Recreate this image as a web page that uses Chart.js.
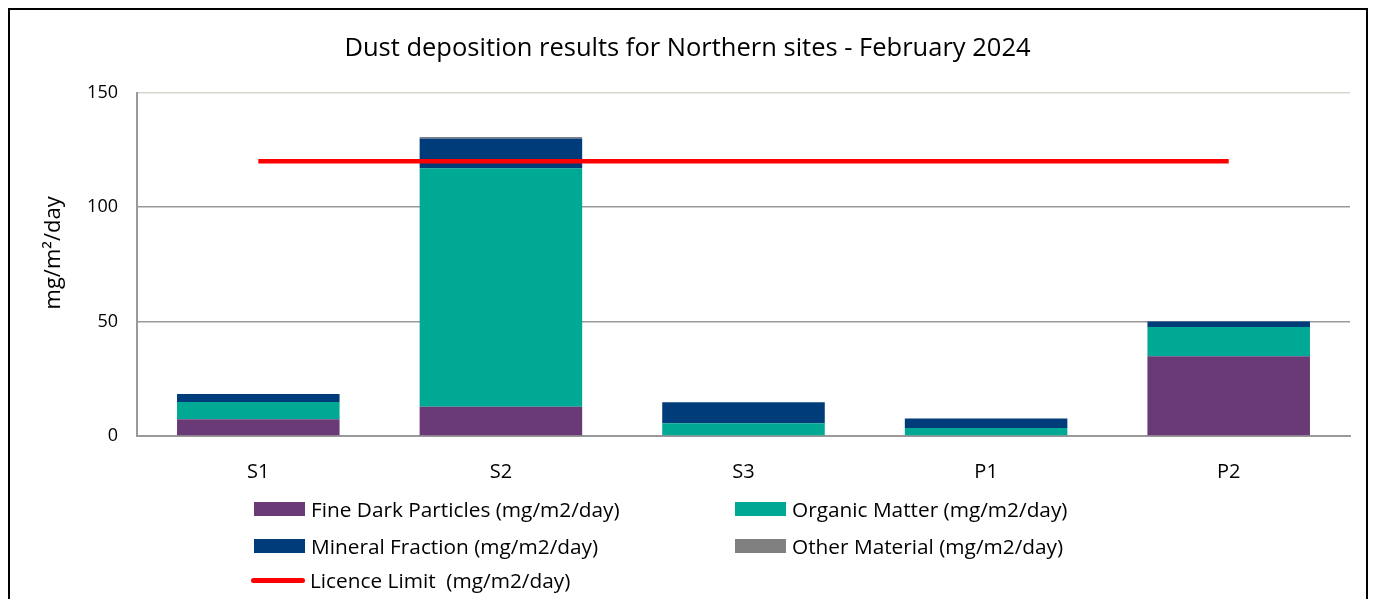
<!DOCTYPE html>
<html>
<head>
<meta charset="utf-8">
<script src="https://cdn.jsdelivr.net/npm/chart.js@4"></script>
<style>
  body { margin: 0; background: #fff; font-family: 'Open Sans', sans-serif; }
  #wrap { position: relative; width: 1374px; height: 599px; overflow: hidden; }
  #frame { position: absolute; left: 8px; top: 8px; width: 1356px; height: 620px;
           border: 2px solid #000; border-bottom: none; }
  #legend { position: absolute; left: 0; top: 0; font-size: 20.8px; color: #000; }
  .item { position: absolute; display: flex; align-items: center; white-space: pre; line-height: 24px; }
  .sw { width: 51px; height: 14px; margin-right: 6px; }
  .ln { width: 54px; height: 5px; border-radius: 3px; margin-right: 5px; margin-left: -3px; }
</style>
</head>
<body>
<div id="wrap">
  <canvas id="dustChart" width="1374" height="599"></canvas>
  <div id="frame"></div>
  <div id="legend"></div>
</div>
<script>
// ---- datos ----
const SITES = ["S1", "S2", "S3", "P1", "P2"];
const FINE_DARK = [7.3, 12.8, 0, 0, 34.8];
const ORGANIC = [7.6, 104.2, 5.6, 3.5, 12.8];
const MINERAL = [3.5, 12.9, 9.1, 4.1, 2.4];
const OTHER = [0, 0.7, 0, 0, 0];
const LICENCE_LIMIT = [120, 120, 120, 120, 120];
const Y_TICKS = [0, 50, 100, 150];

const COLORS = {
    fine: '#6A3A77',
    organic: '#00A994',
    mineral: '#003C7A',
    other: '#808080',
    limit: '#FF0000'
};

const FONT = "'Open Sans', Lato, sans-serif";

function barSet(label, data, color) {
    return { type: 'bar', label: label, data: data, backgroundColor: color,
             borderWidth: 0, stack: 'dust', order: 1,
             barPercentage: 0.67, categoryPercentage: 1 };
}

const datasets = [
    barSet('Fine Dark Particles (mg/m2/day)', FINE_DARK, COLORS.fine),
    barSet('Organic Matter (mg/m2/day)', ORGANIC, COLORS.organic),
    barSet('Mineral Fraction (mg/m2/day)', MINERAL, COLORS.mineral),
    barSet('Other Material (mg/m2/day)', OTHER, COLORS.other),
    { type: 'line', label: 'Licence Limit  (mg/m2/day)', data: LICENCE_LIMIT,
      borderColor: COLORS.limit, borderWidth: 4.5, pointRadius: 0,
      stack: 'limit', order: 0, fill: false }
];

new Chart(document.getElementById('dustChart'), {
    type: 'bar',
    data: { labels: SITES, datasets: datasets },
    options: {
        responsive: false,
        animation: false,
        layout: { padding: { left: 25, right: 24, top: 0, bottom: 113 } },
        plugins: {
            legend: { display: false },
            tooltip: { enabled: false },
            title: {
                display: true,
                text: 'Dust deposition results for Northern sites - February 2024',
                color: '#000',
                font: { family: FONT, size: 25.5, weight: 'normal' },
                padding: { top: 33, bottom: 29 }
            }
        },
        scales: {
            x: {
                stacked: true,
                grid: { display: false },
                border: { color: '#999', width: 2 },
                ticks: { color: '#000', font: { family: FONT, size: 20 }, padding: 16 },
                afterFit: s => { s.height = 50; }
            },
            y: {
                stacked: true,
                min: 0, max: 150,
                afterBuildTicks: s => { s.ticks = Y_TICKS.map(v => ({ value: v })); },
                grid: {
                    color: c => c.tick && c.tick.value === 150 ? '#d6d6cc' : '#999',
                    lineWidth: 1.6,
                    drawTicks: false
                },
                border: { color: '#999', width: 2 },
                ticks: { color: '#000', font: { family: FONT, size: 18 }, padding: 19 },
                title: {
                    display: true,
                    // espacios delante para subir un poco el texto como en el original
                    text: '    mg/m\u00B2/day',
                    color: '#000',
                    font: { family: FONT, size: 22 },
                    padding: { top: 16, bottom: 2 }
                },
                afterFit: s => { s.width = 112; }
            }
        }
    }
});

// --- leyenda HTML en dos columnas ---
const legendItems = [
    { ds: 0, x: 254, y: 509 }, { ds: 1, x: 735, y: 509 },
    { ds: 2, x: 254, y: 546 }, { ds: 3, x: 735, y: 546 },
    { ds: 4, x: 254, y: 580 }
];
const legendEl = document.getElementById('legend');
legendItems.forEach(it => {
    const d = datasets[it.ds];
    const div = document.createElement('div');
    div.className = 'item';
    div.style.left = it.x + 'px';
    div.style.top = (it.y - 12) + 'px';
    const sw = document.createElement('span');
    if (d.type === 'line') {
        sw.className = 'ln';
        sw.style.background = d.borderColor;
    } else {
        sw.className = 'sw';
        sw.style.background = d.backgroundColor;
    }
    div.appendChild(sw);
    div.appendChild(document.createTextNode(d.label));
    legendEl.appendChild(div);
});
</script>
</body>
</html>
